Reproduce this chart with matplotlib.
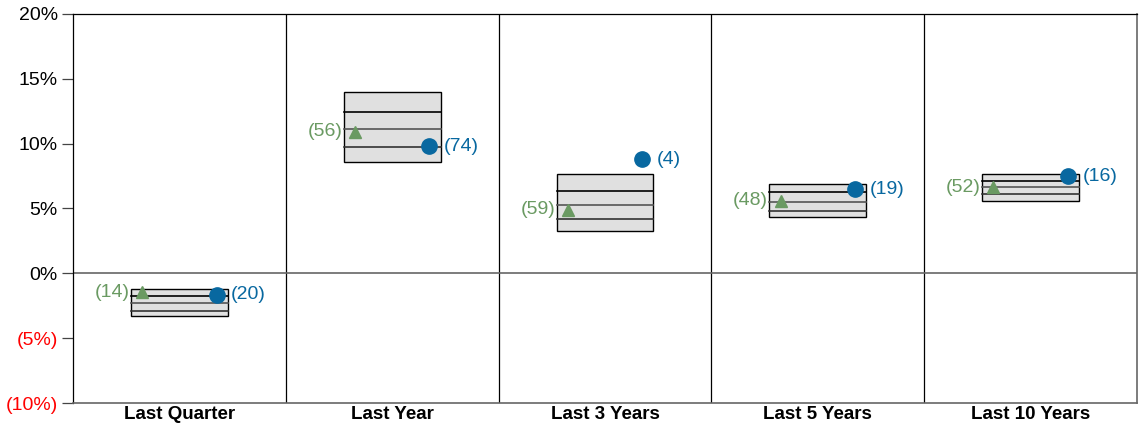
import matplotlib
matplotlib.use("Agg")
import matplotlib.pyplot as plt
import numpy as np

plt.rcParams['font.family'] = ['Liberation Sans', 'DejaVu Sans']

categories = ["Last Quarter", "Last Year", "Last 3 Years", "Last 5 Years", "Last 10 Years"]
p_top = [-1.23, 14.0, 7.64, 6.92, 7.66]
p_q1 = [-1.72, 12.42, 6.35, 6.25, 7.15]
p_med = [-2.31, 11.13, 5.25, 5.50, 6.69]
p_q3 = [-2.87, 9.77, 4.17, 4.83, 6.12]
p_bot = [-3.28, 8.59, 3.25, 4.32, 5.60]
tri_vals = [-1.45, 10.9, 4.89, 5.60, 6.64]
tri_ranks = [14, 56, 59, 48, 52]
dot_vals = [-1.67, 9.82, 8.80, 6.48, 7.50]
dot_ranks = [20, 74, 4, 19, 16]
yticks = [-10, -5, 0, 5, 10, 15, 20]
ytick_labels = ["(10%)", "(5%)", "0%", "5%", "10%", "15%", "20%"]

green = "#6a9a62"
blue = "#0868a0"

fig = plt.figure(figsize=(11.44, 4.23), dpi=100)
ax = fig.add_axes([73/1144, 1 - 403/423, (1137-73)/1144, (403-14)/423])

n = len(categories)
x = np.arange(n)
bw = 0.455
off = 0.175

for i in range(n):
    ax.bar(x[i], p_top[i] - p_bot[i], bottom=p_bot[i], width=bw,
           color="#e0e0e0", edgecolor="black", linewidth=1.0, zorder=2)
    for v, c in [(p_q1[i], "black"), (p_med[i], "#555555"), (p_q3[i], "#333333")]:
        ax.plot([x[i] - bw/2, x[i] + bw/2], [v, v], color=c, lw=1.2, zorder=3)
    ax.plot(x[i] - off, tri_vals[i], marker="^", color=green, ms=9, ls="none", zorder=4)
    ax.annotate(f"({tri_ranks[i]})", (x[i] - off, tri_vals[i]), xytext=(-9, 0),
                textcoords="offset points", ha="right", va="center",
                color=green, fontsize=14)
    ax.plot(x[i] + off, dot_vals[i], marker="o", color=blue, ms=11, ls="none", zorder=4)
    ax.annotate(f"({dot_ranks[i]})", (x[i] + off, dot_vals[i]), xytext=(10.5, 0),
                textcoords="offset points", ha="left", va="center",
                color=blue, fontsize=14)

for b in np.arange(0.5, n - 0.5, 1):
    ax.axvline(b, color="black", lw=0.9, zorder=1)
ax.axhline(0, color="#666666", lw=1.2, zorder=1)

ax.set_xlim(-0.5, n - 0.5)
ax.set_ylim(-10, 20)
ax.set_yticks(yticks)
ax.set_yticklabels(ytick_labels, fontsize=14)
for lbl, v in zip(ax.get_yticklabels(), yticks):
    lbl.set_color("red" if v < 0 else "black")
ax.tick_params(axis="y", length=8, width=0.9, color="#444444", pad=3)
ax.set_xticks(x)
ax.set_xticklabels(categories, fontsize=13.5, fontweight="bold")
ax.tick_params(axis="x", length=0, pad=2)

for s in ["left", "top"]:
    ax.spines[s].set_color("black")
    ax.spines[s].set_linewidth(0.9)
for s in ["right", "bottom"]:
    ax.spines[s].set_color("#666666")
    ax.spines[s].set_linewidth(1.2)

fig.savefig("out.png", dpi=100)
